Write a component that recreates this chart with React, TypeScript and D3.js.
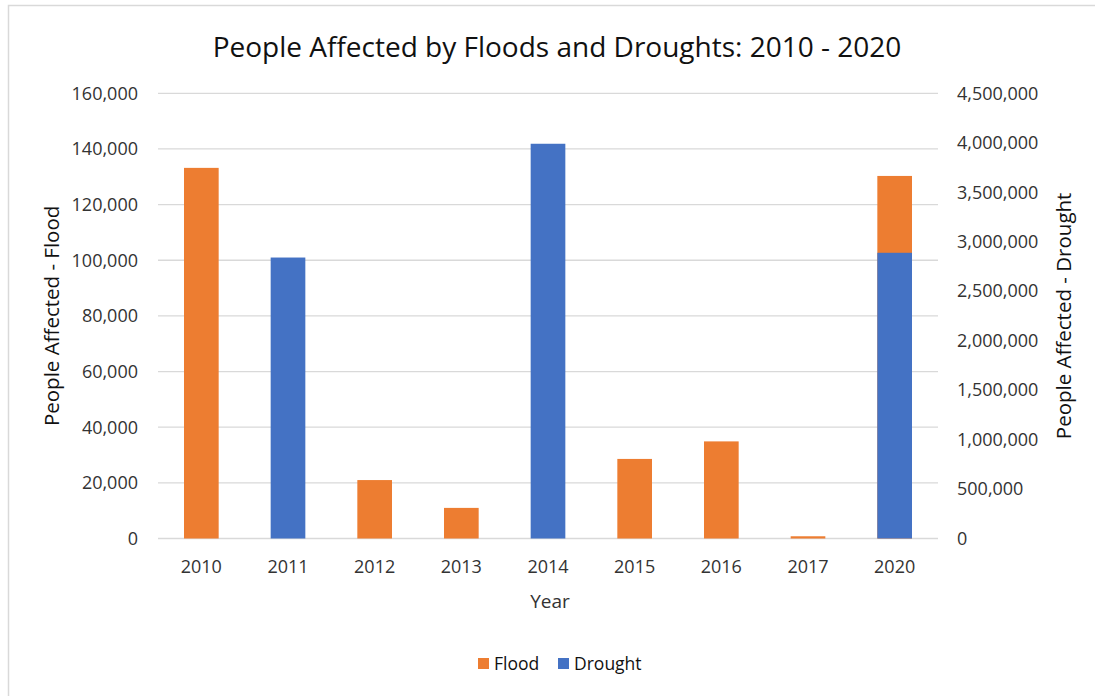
import React, { useRef, useEffect } from "react";
import * as d3 from "d3";

const years = ["2010", "2011", "2012", "2013", "2014", "2015", "2016", "2017", "2020"];
const flood = [133200, 0, 21000, 11000, 0, 28600, 34900, 800, 130300];
const drought = [0, 2840000, 0, 0, 3990000, 0, 0, 0, 2888000];
const leftTicks = [0, 20000, 40000, 60000, 80000, 100000, 120000, 140000, 160000];
const rightTicks = [0, 500000, 1000000, 1500000, 2000000, 2500000, 3000000, 3500000, 4000000, 4500000];

const FLOOD_COLOR = "#ED7D31";
const DROUGHT_COLOR = "#4472C4";
const FONT = "'Open Sans', 'Liberation Sans', sans-serif";

const App: React.FC = () => {
  const ref = useRef<SVGSVGElement | null>(null);

  useEffect(() => {
    if (!ref.current) return;
    const svg = d3.select(ref.current);
    svg.selectAll("*").remove();

    const width = 1095;
    const height = 696;
    const left = 158;
    const right = 938;
    const top = 93.3;
    const bottom = 538.5;

    svg.attr("width", width).attr("height", height);

    svg.append("rect").attr("width", width).attr("height", height).attr("fill", "#fff");

    // chart border (only top and left show in frame)
    svg.append("path")
      .attr("d", `M8.5,${height} V5.5 H${width}`)
      .attr("fill", "none")
      .attr("stroke", "#d9d9d9")
      .attr("stroke-width", 1.5);

    const x = d3.scaleBand().domain(years).range([left, right]).paddingInner(0.6).paddingOuter(0.3);
    const yL = d3.scaleLinear().domain([0, 160000]).range([bottom, top]);
    const yR = d3.scaleLinear().domain([0, 4500000]).range([bottom, top]);

    // gridlines
    svg.append("g")
      .selectAll("line")
      .data(leftTicks)
      .enter()
      .append("line")
      .attr("x1", left)
      .attr("x2", right)
      .attr("y1", (d) => yL(d))
      .attr("y2", (d) => yL(d))
      .attr("stroke", "#d9d9d9")
      .attr("stroke-width", 1.3);

    // flood bars (primary)
    svg.append("g")
      .selectAll("rect")
      .data(years.map((y, i) => ({ y, v: flood[i] })).filter((d) => d.v > 0))
      .enter()
      .append("rect")
      .attr("x", (d) => x(d.y)!)
      .attr("width", x.bandwidth())
      .attr("y", (d) => yL(d.v))
      .attr("height", (d) => bottom - yL(d.v))
      .attr("fill", FLOOD_COLOR);

    // drought bars (secondary, drawn on top)
    svg.append("g")
      .selectAll("rect")
      .data(years.map((y, i) => ({ y, v: drought[i] })).filter((d) => d.v > 0))
      .enter()
      .append("rect")
      .attr("x", (d) => x(d.y)!)
      .attr("width", x.bandwidth())
      .attr("y", (d) => yR(d.v))
      .attr("height", (d) => bottom - yR(d.v))
      .attr("fill", DROUGHT_COLOR);

    const fmt = d3.format(",");
    const textStyle = (sel: any, size: number) =>
      sel.attr("font-family", FONT).attr("font-size", size).attr("fill", "#333");

    textStyle(
      svg.append("g")
        .selectAll("text")
        .data(leftTicks)
        .enter()
        .append("text")
        .attr("x", 138)
        .attr("y", (d) => yL(d))
        .attr("dy", "0.35em")
        .attr("text-anchor", "end")
        .text((d) => fmt(d)),
      18
    );

    textStyle(
      svg.append("g")
        .selectAll("text")
        .data(rightTicks)
        .enter()
        .append("text")
        .attr("x", 957)
        .attr("y", (d) => yR(d))
        .attr("dy", "0.35em")
        .attr("text-anchor", "start")
        .text((d) => fmt(d)),
      18
    );

    textStyle(
      svg.append("g")
        .selectAll("text")
        .data(years)
        .enter()
        .append("text")
        .attr("x", (d) => x(d)! + x.bandwidth() / 2)
        .attr("y", 567)
        .attr("dy", "0.35em")
        .attr("text-anchor", "middle")
        .text((d) => d),
      18
    );

    svg.append("text")
      .attr("x", 557)
      .attr("y", 47)
      .attr("dy", "0.35em")
      .attr("text-anchor", "middle")
      .attr("font-family", FONT)
      .attr("font-size", 28)
      .attr("fill", "#111")
      .text("People Affected by Floods and Droughts: 2010 - 2020");

    textStyle(svg.append("text"), 19)
      .attr("x", 550)
      .attr("y", 601)
      .attr("dy", "0.35em")
      .attr("text-anchor", "middle")
      .text("Year");

    textStyle(svg.append("text"), 20.5)
      .attr("transform", `translate(52,${(top + bottom) / 2}) rotate(-90)`)
      .attr("dy", "0.35em")
      .attr("text-anchor", "middle")
      .attr("fill", "#111")
      .text("People Affected - Flood");

    textStyle(svg.append("text"), 20.5)
      .attr("transform", `translate(1064,${(top + bottom) / 2}) rotate(-90)`)
      .attr("dy", "0.35em")
      .attr("text-anchor", "middle")
      .attr("fill", "#111")
      .text("People Affected - Drought");

    // legend
    const legend = [
      { name: "Flood", color: FLOOD_COLOR, x: 478 },
      { name: "Drought", color: DROUGHT_COLOR, x: 558 },
    ];
    const lg = svg.append("g").selectAll("g").data(legend).enter().append("g");
    lg.append("rect")
      .attr("x", (d) => d.x)
      .attr("y", 658)
      .attr("width", 11)
      .attr("height", 11)
      .attr("fill", (d) => d.color);
    textStyle(lg.append("text"), 17.5)
      .attr("x", (d: any) => d.x + 16)
      .attr("y", 664)
      .attr("dy", "0.35em")
      .attr("fill", "#111")
      .text((d: any) => d.name);
  }, []);

  return (
    <svg
      ref={ref}
      style={{ position: "absolute", left: 0, top: 0, display: "block" }}
    />
  );
};

export default App;
